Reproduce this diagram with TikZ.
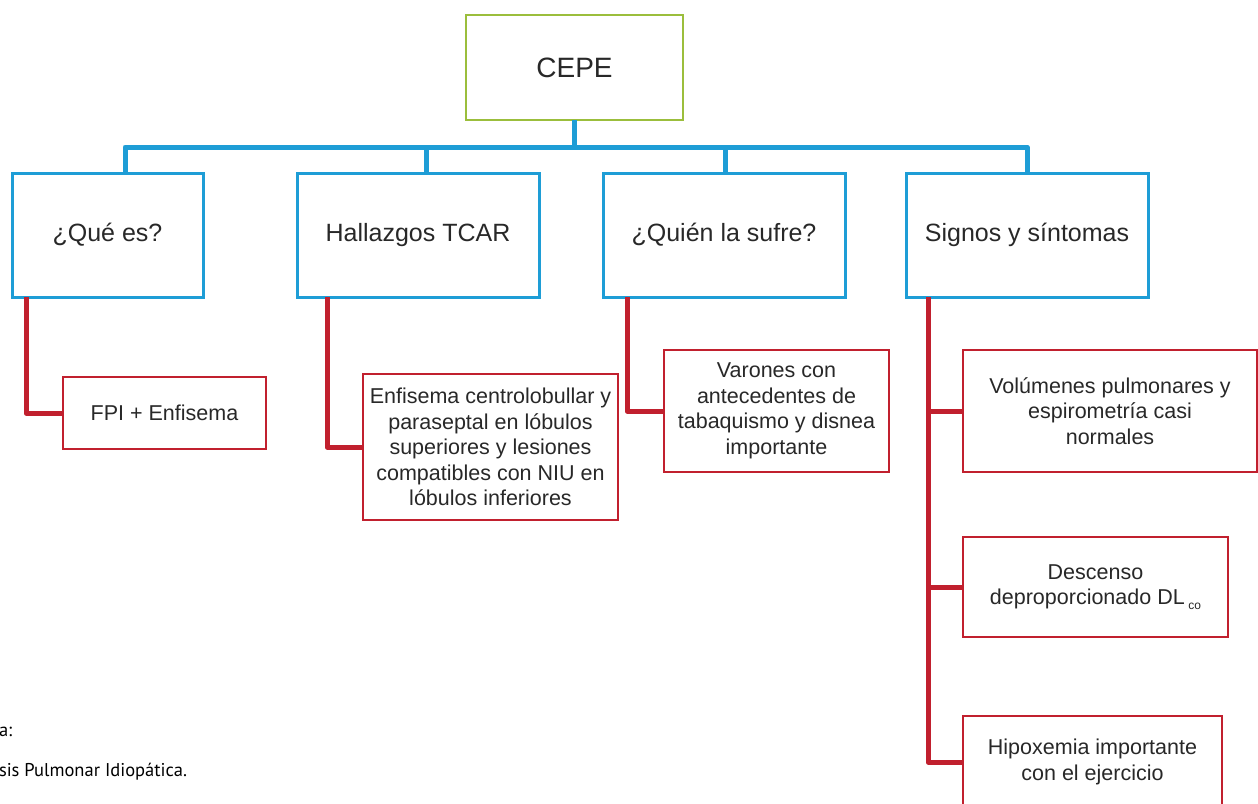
\documentclass[tikz,border=0pt]{standalone}
\usepackage{fontspec}
\setmainfont{Liberation Sans}
\newfontfamily\notefont{PT Sans}
\definecolor{boxblue}{RGB}{30,157,214}
\definecolor{boxred}{RGB}{193,32,46}
\definecolor{boxgreen}{RGB}{155,190,60}
\definecolor{txtgray}{RGB}{40,40,40}
\begin{document}
\begin{tikzpicture}[x=1pt,y=-1pt,
  every node/.style={inner sep=0pt, outer sep=0pt, text=txtgray, align=center},
  rootbox/.style={draw=boxgreen, line width=2.5pt, minimum width=217pt, minimum height=105pt,
    font=\fontsize{28}{32}\selectfont},
  catbox/.style={draw=boxblue, line width=3pt, minimum width=242pt, minimum height=124pt,
    font=\fontsize{25}{30}\selectfont},
  leafbox/.style={draw=boxred, line width=2pt, font=\fontsize{21.5}{25.5}\selectfont},
  busline/.style={draw=boxblue, line width=5pt, line join=round},
  tieline/.style={draw=boxred, line width=5pt, line join=round},
  notetext/.style={anchor=west, text=black, font=\notefont\fontsize{18.5}{22}\selectfont}]
\useasboundingbox (0,0) rectangle (1258,803);

% top of the tree
\node[rootbox] (cepe) at (574.5,67.5) {CEPE};

% four branches
\node[catbox, minimum width=191pt] (q1) at (107.5,235) {¿Qué es?};
\node[catbox] (q2) at (418,235) {Hallazgos TCAR};
\node[catbox] (q3) at (724,235) {¿Quién la sufre?};
\node[catbox] (q4) at (1027,235) {Signos y síntomas};

% leaves
\node[leafbox, minimum width=203pt, minimum height=72pt] (a1) at (164.5,413) {FPI + Enfisema};
\node[leafbox, minimum width=255pt, minimum height=146pt] (a2) at (490.5,447)
  {Enfisema centrolobullar y\\ paraseptal en lóbulos\\ superiores y lesiones\\ compatibles con NIU en\\ lóbulos inferiores};
\node[leafbox, minimum width=225pt, minimum height=122pt] (a3) at (776.5,411)
  {Varones con\\ antecedentes de\\ tabaquismo y disnea\\ importante};
\node[leafbox, minimum width=294pt, minimum height=122pt] (b1) at (1110,411)
  {Volúmenes pulmonares y\\ espirometría casi\\ normales};
\node[leafbox, minimum width=265pt, minimum height=100pt] (b2) at (1095.5,587)
  {Descenso\\ deproporcionado DL\,\raisebox{-5pt}{\fontsize{12}{14}\selectfont co}};
\node[leafbox, minimum width=259pt, minimum height=92pt] (b3) at (1092.5,762)
  {Hipoxemia importante\\ con el ejercicio};

% drop points on the branch boxes
\coordinate (d1) at ([xshift=17.5pt]q1.north);
\coordinate (d2) at ([xshift=8pt]q2.north);
\coordinate (d3) at ([xshift=1pt]q3.north);
\coordinate (d4) at (q4.north);

% blue bus
\foreach \d in {d1,d2,d3,d4}
  \draw[busline] (cepe.south) -- ++(0,27) -| (\d);

% red ties
\draw[tieline] ([xshift=14pt]q1.south west) |- (a1.west);
\draw[tieline] ([xshift=30pt]q2.south west) |- (a2.west);
\draw[tieline] ([xshift=24pt]q3.south west) |- (a3.west);
\draw[tieline] ([xshift=22pt]q4.south west) |- (b1.west);
\draw[tieline] ([xshift=22pt]q4.south west) |- (b2.west);
\draw[tieline] ([xshift=22pt]q4.south west) |- (b3.west);

% footnote lines
\node[notetext] (n1) at (-1,732) {a:};
\node[notetext] (n2) at (-1,772) {sis Pulmonar Idiopática.};
\end{tikzpicture}
\end{document}
